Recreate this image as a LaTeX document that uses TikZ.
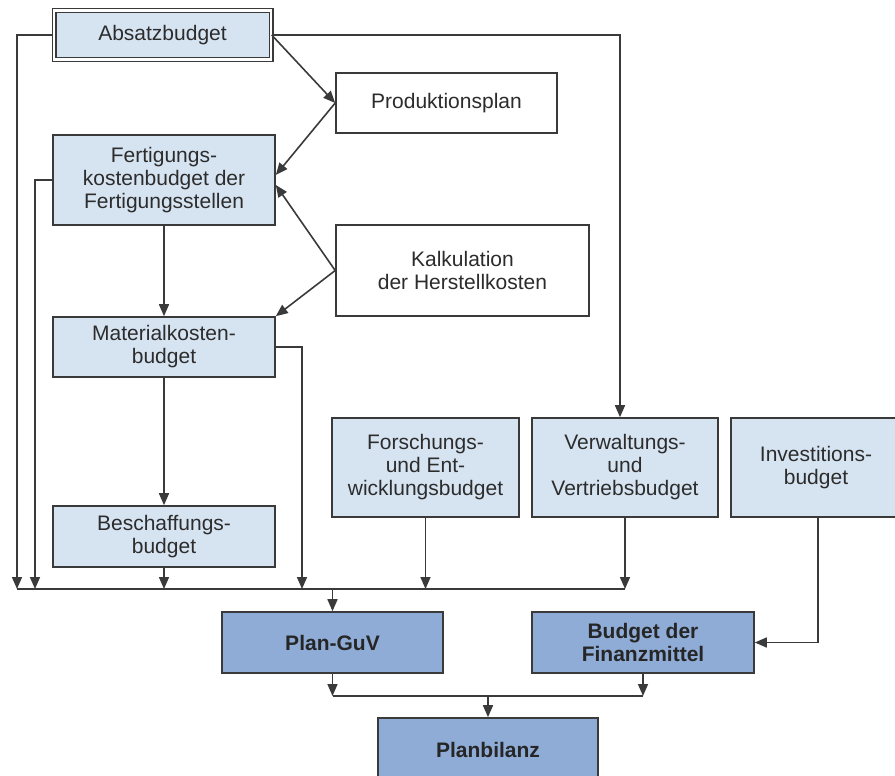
\documentclass[tikz,border=0pt]{standalone}
\usepackage{fontspec}
\setmainfont{Liberation Sans}
\usetikzlibrary{arrows.meta,calc}
\definecolor{lineclr}{RGB}{58,58,58}
\definecolor{paleblue}{RGB}{214,228,242}
\definecolor{midblue}{RGB}{142,172,214}
\definecolor{txtclr}{RGB}{44,44,44}

\begin{document}
\begin{tikzpicture}[x=1pt,y=-1pt,
  box/.style={draw=lineclr, line width=1.6pt, inner sep=0pt, align=center,
              text=txtclr, font=\fontsize{21}{23}\selectfont},
  pale/.style={box, fill=paleblue},
  plain/.style={box, fill=white},
  strong/.style={box, fill=midblue, text=black!85,
                 font=\fontsize{21}{23}\selectfont\bfseries},
  link/.style={draw=lineclr, line width=1.6pt},
  arr/.style={link, -{Triangle[length=12pt,width=10pt]}},
]
\useasboundingbox (0,0) rectangle (895,776);

% budget boxes
\node[pale, double=white, double distance=2.2pt, line width=1.4pt,
      minimum width=217pt, minimum height=49pt] (absatz) at (162.5,35) {Absatzbudget};
\node[plain, minimum width=221pt, minimum height=60pt] (prod) at (446.5,103) {Produktionsplan};
\node[pale, minimum width=222pt, minimum height=90pt] (fert) at (164,180)
  {Fertigungs-\\kostenbudget der\\Fertigungsstellen};
\node[plain, minimum width=253pt, minimum height=91pt] (kalk) at (462.5,270.5)
  {Kalkulation\\der Herstellkosten};
\node[pale, minimum width=222pt, minimum height=60pt] (mat) at (164,347)
  {Materialkosten-\\budget};
\node[pale, minimum width=222pt, minimum height=61pt] (besch) at (164,536.5)
  {Beschaffungs-\\budget};
\node[pale, minimum width=187pt, minimum height=99pt] (forsch) at (425.5,467.5)
  {Forschungs-\\und Ent-\\wicklungsbudget};
\node[pale, minimum width=186pt, minimum height=99pt] (verw) at (625,467.5)
  {Verwaltungs-\\und\\Vertriebsbudget};
\node[pale, minimum width=170pt, minimum height=99pt] (invest) at (816,467.5)
  {Investitions-\\budget};
\node[strong, minimum width=221pt, minimum height=61pt] (guv) at (332.5,642.5) {Plan-GuV};
\node[strong, minimum width=222pt, minimum height=61pt] (fin) at (643,642.5)
  {Budget der\\Finanzmittel};
\node[strong, minimum width=220pt, minimum height=64pt] (bilanz) at (488,750) {Planbilanz};

% collecting lines
\coordinate (busA) at (17,589);
\coordinate (busB) at (35,589);
\coordinate (busC) at (302,589);
\coordinate (busD) at (488,696);

% upper part
\draw[arr] (absatz.east) -- (prod.west);
\draw[arr] (absatz.east) -| ($(verw.north)+(-5,0)$);
\draw[arr] (prod.west) -- ($(fert.east)+(0,-5)$);
\draw[arr] (kalk.west) -- ($(fert.east)+(0,5)$);
\draw[arr] (kalk.west) -- (mat.north east);
\draw[arr] (fert) -- (mat);
\draw[arr] (mat) -- (besch);

% feeds into the first collecting line
\draw[arr] (absatz.west) -| (busA);
\draw[arr] (fert.west) -| (busB);
\draw[arr] (mat.east) -| (busC);
\draw[arr] (besch.south) -- (besch.south |- busA);
\draw[arr] (forsch.south) -- (forsch.south |- busA);
\draw[arr] (verw.south) -- (verw.south |- busA);
\draw[link] (busA) -- (verw.south |- busA);
\draw[arr] (guv.north |- busA) -- (guv.north);

% financing
\draw[arr] ($(invest.south)+(2,0)$) |- (fin.east);

% second collecting line
\draw[arr] (guv.south) -- (guv.south |- busD);
\draw[arr] (fin.south) -- (fin.south |- busD);
\draw[link] (guv.south |- busD) -- (fin.south |- busD);
\draw[arr] (busD) -- (bilanz.north);
\end{tikzpicture}
\end{document}
